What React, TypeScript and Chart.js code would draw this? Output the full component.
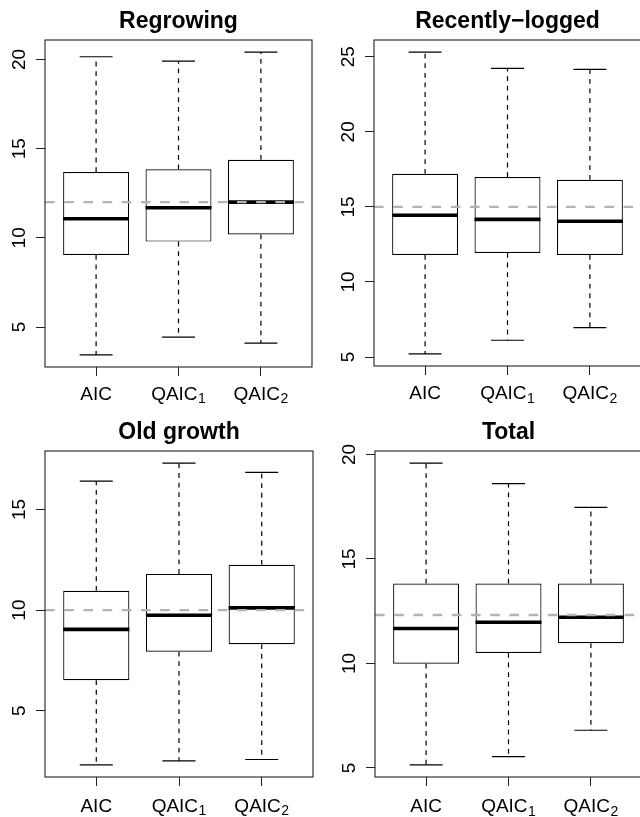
import React, { useEffect, useRef } from "react";
import { Chart, registerables } from "chart.js";

Chart.register(...registerables);

// ---------- data ----------
const categoryNames = ["AIC", "QAIC", "QAIC"];
const categorySubscripts = ["", "1", "2"];
const categoryPositions = [1, 2, 3];

const panelTitles = ["Regrowing", "Recently\u2212logged", "Old growth", "Total"];

// Regrowing
const regrowingLow = [3.44, 4.44, 4.1];
const regrowingQ1 = [9.04, 9.79, 10.19];
const regrowingMedian = [11.07, 11.69, 12.0];
const regrowingQ3 = [13.69, 13.84, 14.38];
const regrowingHigh = [20.15, 19.9, 20.41];
const regrowingTrue = 12.0;
const regrowingTicks = [5, 10, 15, 20];

// Recently-logged
const recentLow = [5.21, 6.12, 6.96];
const recentQ1 = [11.8, 11.93, 11.8];
const recentMedian = [14.44, 14.17, 14.04];
const recentQ3 = [17.21, 16.99, 16.81];
const recentHigh = [25.31, 24.23, 24.16];
const recentTrue = 15.0;
const recentTicks = [5, 10, 15, 20, 25];

// Old growth
const oldLow = [2.3, 2.5, 2.57];
const oldQ1 = [6.51, 7.93, 8.3];
const oldMedian = [9.04, 9.74, 10.11];
const oldQ3 = [10.96, 11.8, 12.25];
const oldHigh = [16.41, 17.31, 16.85];
const oldTrue = 10.0;
const oldTicks = [5, 10, 15];

// Total
const totalLow = [5.14, 5.54, 6.8];
const totalQ1 = [9.98, 10.5, 10.97];
const totalMedian = [11.67, 11.97, 12.21];
const totalQ3 = [13.82, 13.82, 13.82];
const totalHigh = [19.59, 18.61, 17.47];
const totalTrue = 12.32;
const totalTicks = [5, 10, 15, 20];

// ---------- layout / styles ----------
const FONT = '"Liberation Sans", Arial, Helvetica, sans-serif';
const INK = "#000";
const FRAME = "#222";

type Spec = {
  title: string;
  low: number[];
  q1: number[];
  median: number[];
  q3: number[];
  high: number[];
  truth: number;
  ticks: number[];
  left: number;
  top: number;
  width: number;
  height: number;
  xAxisH: number;
  padRight: number;
  labelOffset: number;
};

const panels: Spec[] = [
  { title: panelTitles[0], low: regrowingLow, q1: regrowingQ1, median: regrowingMedian, q3: regrowingQ3, high: regrowingHigh, truth: regrowingTrue, ticks: regrowingTicks, left: 0, top: 0, width: 320, height: 411, xAxisH: 44, padRight: 8, labelOffset: 32.5 },
  { title: panelTitles[1], low: recentLow, q1: recentQ1, median: recentMedian, q3: recentQ3, high: recentHigh, truth: recentTrue, ticks: recentTicks, left: 329, top: 0, width: 320, height: 411, xAxisH: 45, padRight: 8, labelOffset: 33 },
  { title: panelTitles[2], low: oldLow, q1: oldQ1, median: oldMedian, q3: oldQ3, high: oldHigh, truth: oldTrue, ticks: oldTicks, left: 0, top: 411, width: 320, height: 406, xAxisH: 40, padRight: 7, labelOffset: 34.5 },
  { title: panelTitles[3], low: totalLow, q1: totalQ1, median: totalMedian, q3: totalQ3, high: totalHigh, truth: totalTrue, ticks: totalTicks, left: 330, top: 411, width: 320, height: 406, xAxisH: 40, padRight: 8, labelOffset: 35 },
];

// R-style axis range: data range extended by 4% on each side
function rRange(lo: number[], hi: number[]): [number, number] {
  const a = Math.min(...lo);
  const b = Math.max(...hi);
  const d = (b - a) * 0.04;
  return [a - d, b + d];
}

function Panel({ spec }: { spec: Spec }) {
  const ref = useRef<HTMLCanvasElement>(null);

  useEffect(() => {
    const canvas = ref.current;
    if (!canvas) return;
    const [ymin, ymax] = rRange(spec.low, spec.high);
    const [xmin, xmax] = rRange([0.5], [categoryPositions.length + 0.5]);

    const boxPlugin = {
      id: "boxExtras",
      afterDatasetsDraw(chart: any) {
        const ctx = chart.ctx as CanvasRenderingContext2D;
        const y = chart.scales.y;
        const meta = chart.getDatasetMeta(0);
        const area = chart.chartArea;
        ctx.save();
        ctx.beginPath();
        ctx.rect(area.left, area.top, area.right - area.left, area.bottom - area.top);
        ctx.clip();
        meta.data.forEach((el: any, i: number) => {
          const { x: cx, width: w } = el.getProps(["x", "width"], true);
          const pLow = y.getPixelForValue(spec.low[i]);
          const pQ1 = y.getPixelForValue(spec.q1[i]);
          const pMed = y.getPixelForValue(spec.median[i]);
          const pQ3 = y.getPixelForValue(spec.q3[i]);
          const pHigh = y.getPixelForValue(spec.high[i]);
          ctx.strokeStyle = INK;
          ctx.lineCap = "butt";
          // whiskers
          ctx.lineWidth = 1.2;
          ctx.setLineDash([4.8, 4.8]);
          ctx.beginPath();
          ctx.moveTo(cx, pQ3);
          ctx.lineTo(cx, pHigh);
          ctx.stroke();
          ctx.beginPath();
          ctx.moveTo(cx, pQ1);
          ctx.lineTo(cx, pLow);
          ctx.stroke();
          ctx.setLineDash([]);
          // staples
          ctx.beginPath();
          ctx.moveTo(cx - w / 4, pHigh);
          ctx.lineTo(cx + w / 4, pHigh);
          ctx.moveTo(cx - w / 4, pLow);
          ctx.lineTo(cx + w / 4, pLow);
          ctx.stroke();
          // median
          ctx.lineWidth = 3.6;
          ctx.beginPath();
          ctx.moveTo(cx - w / 2, pMed);
          ctx.lineTo(cx + w / 2, pMed);
          ctx.stroke();
        });
        // reference (true value) line
        const pT = y.getPixelForValue(spec.truth);
        ctx.strokeStyle = "#b3b3b3";
        ctx.lineWidth = 2.4;
        ctx.setLineDash([9.6, 9.6]);
        ctx.beginPath();
        ctx.moveTo(area.left, pT);
        ctx.lineTo(area.right, pT);
        ctx.stroke();
        ctx.restore();
      },
      afterDraw(chart: any) {
        const ctx = chart.ctx as CanvasRenderingContext2D;
        const a = chart.chartArea;
        const xs = chart.scales.x;
        ctx.save();
        ctx.strokeStyle = FRAME;
        ctx.lineWidth = 1.1;
        ctx.strokeRect(a.left, a.top, a.right - a.left, a.bottom - a.top);
        // category labels with subscripts
        ctx.fillStyle = INK;
        ctx.textBaseline = "alphabetic";
        ctx.textAlign = "left";
        const yb = a.bottom + spec.labelOffset;
        const gap = 0.5;
        categoryPositions.forEach((v, k) => {
          const cx = xs.getPixelForValue(v);
          const base = categoryNames[k];
          const sub = categorySubscripts[k];
          ctx.font = `19px ${FONT}`;
          const wb = ctx.measureText(base).width;
          ctx.font = `14px ${FONT}`;
          const ws = sub ? ctx.measureText(sub).width + gap : 0;
          const x0 = cx - (wb + ws) / 2;
          ctx.font = `19px ${FONT}`;
          ctx.fillText(base, x0, yb);
          if (sub) {
            ctx.font = `14px ${FONT}`;
            ctx.fillText(sub, x0 + wb + gap, yb + 3.5);
          }
        });
        ctx.restore();
      },
    };

    const chart = new Chart(canvas, {
      type: "bar",
      data: {
        datasets: [
          {
            data: categoryPositions.map((x, i) => ({ x, y: [spec.q1[i], spec.q3[i]] })) as any,
            backgroundColor: "#fff",
            borderColor: INK,
            borderWidth: 1.2,
            borderSkipped: false,
            barPercentage: 0.8,
            categoryPercentage: 1,
          },
        ],
      },
      options: {
        responsive: false,
        animation: false,
        devicePixelRatio: 1,
        events: [],
        layout: { padding: { left: 0, right: spec.padRight, top: 0, bottom: 0 } },
        plugins: {
          legend: { display: false },
          tooltip: { enabled: false },
          title: {
            display: true,
            text: spec.title,
            fullSize: false,
            color: INK,
            font: { family: FONT, size: 23, weight: "bold", lineHeight: 1.2 },
            padding: { top: 7.5, bottom: 4.9 },
          },
        },
        scales: {
          x: {
            type: "linear",
            min: xmin,
            max: xmax,
            offset: false,
            grid: { display: true, offset: false, drawOnChartArea: false, drawTicks: true, tickLength: 9, tickColor: FRAME, lineWidth: 1 },
            border: { display: false },
            ticks: { display: false, autoSkip: false },
            afterBuildTicks: (s: any) => {
              s.ticks = categoryPositions.map((v) => ({ value: v }));
            },
            afterFit: (s: any) => {
              s.height = spec.xAxisH;
            },
          },
          y: {
            type: "linear",
            min: ymin,
            max: ymax,
            grid: { display: true, drawOnChartArea: false, drawTicks: true, tickLength: 9, tickColor: FRAME, lineWidth: 1 },
            border: { display: false },
            ticks: {
              autoSkip: false,
              minRotation: 90,
              maxRotation: 90,
              crossAlign: "center",
              padding: 6,
              color: INK,
              font: { family: FONT, size: 19 },
            },
            afterBuildTicks: (s: any) => {
              s.ticks = spec.ticks.map((v) => ({ value: v }));
            },
            afterFit: (s: any) => {
              s.width = 45;
            },
          },
        },
      } as any,
      plugins: [boxPlugin],
    });
    return () => chart.destroy();
  }, [spec]);

  return (
    <div style={{ position: "absolute", left: spec.left, top: spec.top, width: spec.width, height: spec.height }}>
      <canvas ref={ref} width={spec.width} height={spec.height} style={{ display: "block" }} />
    </div>
  );
}

export default function App() {
  return (
    <div
      style={{
        position: "absolute",
        left: 0,
        top: 0,
        width: 640,
        height: 817,
        overflow: "hidden",
        background: "#fff",
      }}
    >
      {panels.map((p, i) => (
        <Panel key={i} spec={p} />
      ))}
    </div>
  );
}
